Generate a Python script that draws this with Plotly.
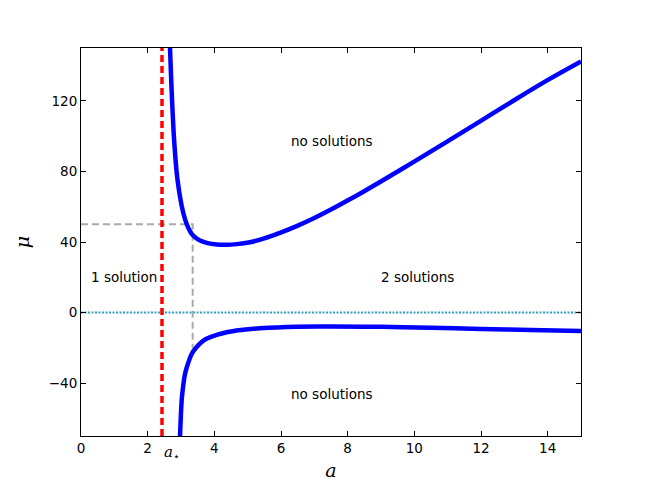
import plotly.graph_objects as go

# Upper branch of the curve
a_up = [2.67, 2.71, 2.75, 2.80, 2.89, 3.02, 3.12, 3.22, 3.32, 3.45, 3.57, 3.80, 4.07, 4.37,
        4.67, 5.07, 5.50, 5.97, 6.47, 6.97, 7.47, 7.97, 8.47, 8.97, 9.97, 10.97, 11.97, 12.97,
        13.97, 15.0]
mu_up = [150, 130, 113, 96, 76, 60.5, 53, 48, 44.6, 42.3, 40.9, 39.4, 38.6, 38.4,
         38.8, 39.9, 42.0, 45.2, 49.0, 53.3, 58.1, 63.2, 68.5, 74.0, 85.3, 96.8, 108.4, 120.1,
         131.5, 142.4]

# Lower branch of the curve
a_lo = [2.97, 3.02, 3.05, 3.12, 3.20, 3.32, 3.45, 3.67, 3.90, 4.37, 4.80, 5.37, 6.47, 7.5,
        9.0, 10.5, 12.0, 13.5, 15.0]
mu_lo = [-70.4, -49.9, -44.0, -34.8, -29.5, -23.5, -20.0, -15.9, -13.8, -11.2, -9.9, -8.9, -8.0,
         -7.9, -8.1, -8.6, -9.3, -9.9, -10.5]

a_star = 2.43
a_ref = 3.35
mu_ref = 50
mu_ref_low = -20

x_range = [0, 15]
y_range = [-70, 150]
x_ticks = [0, 2, 4, 6, 8, 10, 12, 14]
y_ticks = [-40, 0, 40, 80, 120]
y_tick_text = ["\u221240", "0", "40", "80", "120"]

region_labels = ["no solutions", "2 solutions", "1 solution", "no solutions"]
region_a = [7.53, 10.1, 1.29, 7.53]
region_mu = [97, 20, 20, -46]

fig = go.Figure()

# cyan dotted zero line
fig.add_trace(go.Scatter(x=x_range, y=[0, 0], mode="lines",
                         line=dict(color="#2f9fc2", width=2, dash="2px,1.5px"),
                         hoverinfo="skip", showlegend=False))
# gray dashed reference lines
fig.add_trace(go.Scatter(x=[0, a_ref, a_ref], y=[mu_ref, mu_ref, mu_ref_low], mode="lines",
                         line=dict(color="#aaaaaa", width=2, dash="7px,4px"),
                         hoverinfo="skip", showlegend=False))
# red dashed vertical line
fig.add_trace(go.Scatter(x=[a_star, a_star], y=y_range, mode="lines",
                         line=dict(color="#ff0000", width=3.5, dash="7px,4px"),
                         hoverinfo="skip", showlegend=False))
# curves
fig.add_trace(go.Scatter(x=a_up, y=mu_up, mode="lines",
                         line=dict(color="#0000ff", width=4.5, shape="spline", smoothing=1.0),
                         showlegend=False))
fig.add_trace(go.Scatter(x=a_lo, y=mu_lo, mode="lines",
                         line=dict(color="#0000ff", width=4.5, shape="spline", smoothing=1.0),
                         showlegend=False))

for t, xa, ym in zip(region_labels, region_a, region_mu):
    fig.add_annotation(x=xa, y=ym, text=t, showarrow=False, xref="x", yref="y",
                       font=dict(family="DejaVu Sans", size=13.5, color="black"))

fig.add_annotation(x=a_star, y=-0.012, xref="x", yref="paper", xanchor="left", yanchor="top",
                   text="<i>a</i><sub>\u22c6</sub>", showarrow=False,
                   font=dict(family="DejaVu Serif", size=15, color="black"))

axis_common = dict(showline=True, linecolor="black", linewidth=1, mirror="ticks",
                   ticks="inside", ticklen=5, tickcolor="black", showgrid=False,
                   zeroline=False, tickfont=dict(family="DejaVu Sans", size=13.5, color="black"))

fig.update_xaxes(range=x_range, tickvals=x_ticks, ticktext=[str(v) for v in x_ticks],
                 title=dict(text="<i>a</i>", font=dict(family="DejaVu Serif", size=19, color="black"),
                            standoff=8),
                 **axis_common)
fig.update_yaxes(range=y_range, tickvals=y_ticks, ticktext=y_tick_text,
                 title=dict(text="<i>\u03bc</i>", font=dict(family="DejaVu Serif", size=19, color="black"),
                            standoff=14),
                 **axis_common)

fig.update_layout(width=646, height=485, margin=dict(l=73, r=73, t=40, b=57),
                  plot_bgcolor="white", paper_bgcolor="white")

fig.write_html("out.html")
